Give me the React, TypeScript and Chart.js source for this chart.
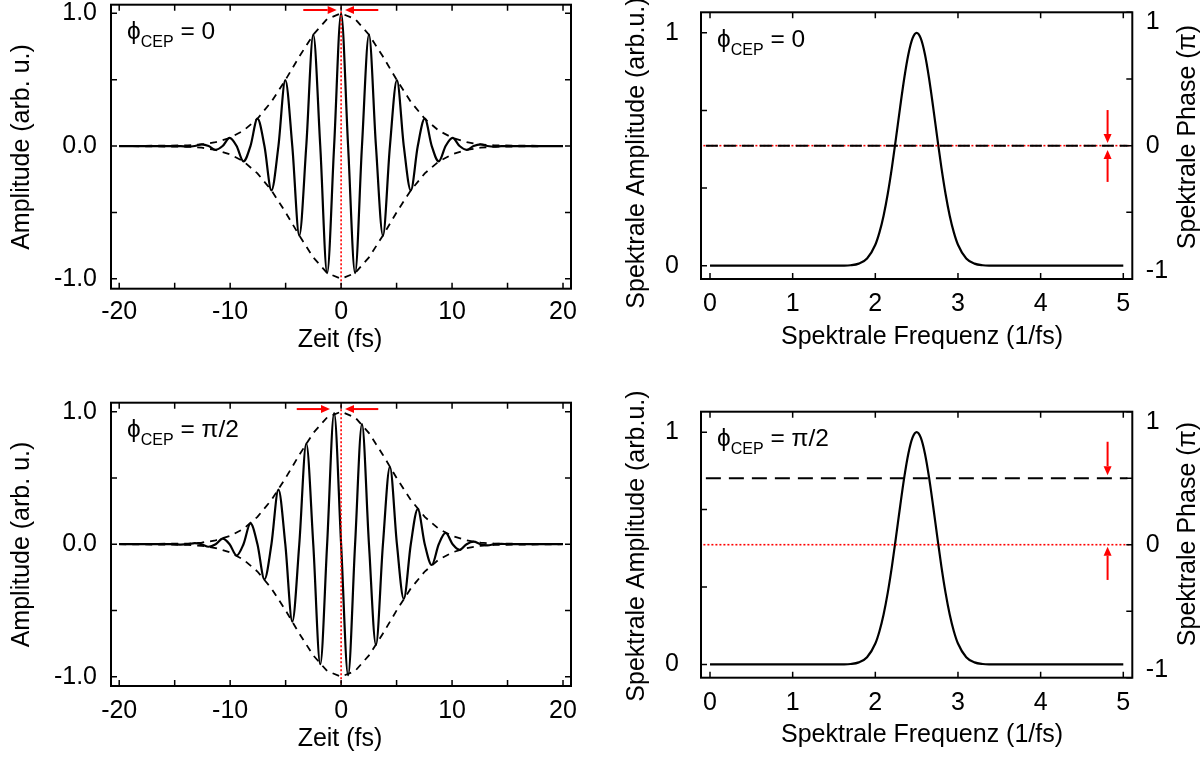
import React, { useEffect, useRef } from "react";
import { Chart, registerables } from "chart.js";

Chart.register(...registerables);

const W = 1203;
const H = 757;
const FONT = '"Liberation Sans", Arial, Helvetica, "DejaVu Sans", sans-serif';
const TICK_SIZE = 25;
const TITLE_SIZE = 25;

// ---------------- data ----------------
// electric field, phi_CEP = 0 (extrema and zero crossings)
const timeCos = [-20, -15, -14.45, -13.82, -13.19, -12.57, -11.94, -11.31, -10.68, -10.05, -9.42, -8.8, -8.17, -7.54, -6.91, -6.28, -5.65, -5.03, -4.4, -3.77, -3.14, -2.51, -1.88, -1.26, -0.63, 0, 0.63, 1.26, 1.88, 2.51, 3.14, 3.77, 4.4, 5.03, 5.65, 6.28, 6.91, 7.54, 8.17, 8.8, 9.42, 10.05, 10.68, 11.31, 11.94, 12.57, 13.19, 13.82, 14.45, 15, 20];
const fieldCos = [0, 0, 0, -0.005, 0, 0.012, 0, -0.029, 0, 0.061, 0, -0.116, 0, 0.206, 0, -0.334, 0, 0.496, 0, -0.674, 0, 0.839, 0, -0.957, 0, 1, 0, -0.957, 0, 0.839, 0, -0.674, 0, 0.496, 0, -0.334, 0, 0.206, 0, -0.116, 0, 0.061, 0, -0.029, 0, 0.012, 0, -0.005, 0, 0, 0];

// electric field, phi_CEP = pi/2
const timeSin = [-20, -15.08, -14.45, -13.82, -13.19, -12.57, -11.94, -11.31, -10.68, -10.05, -9.42, -8.8, -8.17, -7.54, -6.91, -6.28, -5.65, -5.03, -4.4, -3.77, -3.14, -2.51, -1.88, -1.26, -0.63, 0, 0.63, 1.26, 1.88, 2.51, 3.14, 3.77, 4.4, 5.03, 5.65, 6.28, 6.91, 7.54, 8.17, 8.8, 9.42, 10.05, 10.68, 11.31, 11.94, 12.57, 13.19, 13.82, 14.45, 15.08, 20];
const fieldSin = [0, 0, -0.003, 0, 0.008, 0, -0.019, 0, 0.042, 0, -0.085, 0, 0.157, 0, -0.265, 0, 0.412, 0, -0.584, 0, 0.76, 0, -0.906, 0, 0.989, 0, -0.989, 0, 0.906, 0, -0.76, 0, 0.584, 0, -0.412, 0, 0.265, 0, -0.157, 0, 0.085, 0, -0.042, 0, 0.019, 0, -0.008, 0, 0.003, 0, 0];

// envelope (dashed), through the field maxima
const envelopeTime = [-20, -13.82, -12.57, -11.31, -10.05, -8.8, -7.54, -6.28, -5.03, -3.77, -2.51, -1.26, 0, 1.26, 2.51, 3.77, 5.03, 6.28, 7.54, 8.8, 10.05, 11.31, 12.57, 13.82, 20];
const envelopeHigh = [0, 0.005, 0.012, 0.029, 0.061, 0.116, 0.206, 0.334, 0.496, 0.674, 0.839, 0.957, 1, 0.957, 0.839, 0.674, 0.496, 0.334, 0.206, 0.116, 0.061, 0.029, 0.012, 0.005, 0];
const envelopeLow = [0, -0.005, -0.012, -0.029, -0.061, -0.116, -0.206, -0.334, -0.496, -0.674, -0.839, -0.957, -1, -0.957, -0.839, -0.674, -0.496, -0.334, -0.206, -0.116, -0.061, -0.029, -0.012, -0.005, 0];

// red dotted reference at t = 0
const refTime = [0, 0];
const refAmp = [-1.2, 1.2];

// spectrum
const freq = [0, 1.5, 1.6, 1.7, 1.8, 1.9, 2.0, 2.05, 2.1, 2.15, 2.2, 2.25, 2.3, 2.35, 2.4, 2.45, 2.5, 2.55, 2.6, 2.65, 2.7, 2.75, 2.8, 2.85, 2.9, 2.95, 3.0, 3.1, 3.2, 3.3, 3.4, 3.5, 5.0];
const spectrum = [0, 0, 0.0004, 0.002, 0.009, 0.031, 0.09, 0.143, 0.215, 0.308, 0.42, 0.548, 0.68, 0.805, 0.908, 0.976, 1.0, 0.976, 0.908, 0.805, 0.68, 0.548, 0.42, 0.308, 0.215, 0.143, 0.09, 0.031, 0.009, 0.002, 0.0004, 0, 0];

// spectral phase (units of pi)
const phaseFreq = [-0.05, 5.05];
const phaseCep0 = [0, 0];
const phaseCep90 = [0.5, 0.5];
const refPhaseFreq = [-0.08, 5.2];
const refPhase = [0, 0];

// ticks
const timeTicks = [-20, -15, -10, -5, 0, 5, 10, 15, 20];
const timeTickLabels = ["-20", "", "-10", "", "0", "", "10", "", "20"];
const ampTicks = [-1, -0.5, 0, 0.5, 1];
const ampTickLabels = ["-1.0", "", "0.0", "", "1.0"];
const freqTicks = [0, 1, 2, 3, 4, 5];
const freqTickLabels = ["0", "1", "2", "3", "4", "5"];
const specTicks = [0, 1 / 3, 2 / 3, 1];
const specTickLabels = ["0", "", "", "1"];
const phaseTicks = [-1, -0.5, 0, 0.5, 1];
const phaseTickLabels = ["-1", "", "0", "", "1"];

// ---------------- helpers ----------------
const pts = (xs: number[], ys: number[]) => xs.map((x, i) => ({ x, y: ys[i] }));

function fixSize(size: number, horizontal: boolean) {
  return (s: any) => {
    if (horizontal) s.height = size;
    else s.width = size;
    s.paddingTop = 0;
    s.paddingBottom = 0;
    s.paddingLeft = 0;
    s.paddingRight = 0;
  };
}

function axis(o: any) {
  return {
    type: "linear",
    position: o.position,
    min: o.min,
    max: o.max,
    grid: { display: false, drawTicks: false },
    border: { display: false },
    title: { display: false },
    ticks: {
      display: o.showLabels !== false,
      autoSkip: false,
      maxRotation: 0,
      minRotation: 0,
      padding: o.padding,
      color: "#000",
      font: { family: FONT, size: TICK_SIZE },
      callback: (_v: any, i: number) => o.labels[i] ?? "",
    },
    afterBuildTicks: (s: any) => {
      s.ticks = o.ticks.map((v: number) => ({ value: v }));
    },
    afterFit: fixSize(o.size, o.horizontal),
  };
}

function drawArrow(ctx: any, x1: number, y1: number, x2: number, y2: number) {
  const a = Math.atan2(y2 - y1, x2 - x1);
  const head = 9;
  const hw = 4;
  const bx = x2 - head * Math.cos(a);
  const by = y2 - head * Math.sin(a);
  ctx.beginPath();
  ctx.moveTo(x1, y1);
  ctx.lineTo(bx, by);
  ctx.stroke();
  ctx.beginPath();
  ctx.moveTo(x2, y2);
  ctx.lineTo(bx + hw * Math.sin(a), by - hw * Math.cos(a));
  ctx.lineTo(bx - hw * Math.sin(a), by + hw * Math.cos(a));
  ctx.closePath();
  ctx.fill();
}

function decorPlugin(d: any) {
  return {
    id: "decor",
    afterDatasetsDraw(chart: any) {
      const ctx = chart.ctx;
      const ca = chart.chartArea;
      const xs = chart.scales.x;
      const ys = chart.scales.y;
      const y2 = chart.scales.y2;
      const TL = 6;
      ctx.save();
      ctx.strokeStyle = "#000";
      ctx.lineWidth = 1.5;
      ctx.setLineDash([]);
      ctx.beginPath();
      d.xTicks.forEach((v: number) => {
        const px = xs.getPixelForValue(v);
        ctx.moveTo(px, ca.bottom);
        ctx.lineTo(px, ca.bottom - TL);
        ctx.moveTo(px, ca.top);
        ctx.lineTo(px, ca.top + TL);
      });
      d.yTicks.forEach((v: number) => {
        const py = ys.getPixelForValue(v);
        ctx.moveTo(ca.left, py);
        ctx.lineTo(ca.left + TL, py);
        if (!y2) {
          ctx.moveTo(ca.right, py);
          ctx.lineTo(ca.right - TL, py);
        }
      });
      if (y2 && d.y2Ticks) {
        d.y2Ticks.forEach((v: number) => {
          const py = y2.getPixelForValue(v);
          ctx.moveTo(ca.right, py);
          ctx.lineTo(ca.right - TL, py);
        });
      }
      ctx.stroke();
      ctx.lineWidth = 2;
      ctx.strokeRect(ca.left, ca.top, ca.right - ca.left, ca.bottom - ca.top);

      // right-axis tick labels (end labels kept inside the frame height)
      if (y2 && d.y2Ticks) {
        ctx.fillStyle = "#000";
        ctx.font = `${TICK_SIZE}px ${FONT}`;
        ctx.textAlign = "left";
        ctx.textBaseline = "middle";
        d.y2Ticks.forEach((v: number, i: number) => {
          const lab = d.y2Labels[i];
          if (!lab) return;
          let py = y2.getPixelForValue(v);
          py = Math.min(Math.max(py, ca.top + 10), ca.bottom - 8);
          ctx.fillText(lab, ca.right + 13.5, py);
        });
      }

      // arrows
      ctx.strokeStyle = "#ff0000";
      ctx.fillStyle = "#ff0000";
      ctx.lineWidth = 2;
      d.arrows.forEach((ar: any) => {
        const sy = ar.axis === "y2" ? y2 : ys;
        drawArrow(
          ctx,
          xs.getPixelForValue(ar.from[0]),
          sy.getPixelForValue(ar.from[1]),
          xs.getPixelForValue(ar.to[0]),
          sy.getPixelForValue(ar.to[1])
        );
      });

      // phi_CEP label
      ctx.fillStyle = "#000";
      ctx.textAlign = "left";
      ctx.textBaseline = "alphabetic";
      let x = ca.left + 16;
      const base = ca.top + 34.5;
      ctx.font = `24.5px ${FONT}`;
      ctx.fillText("\u03D5", x, base);
      x += ctx.measureText("\u03D5").width;
      ctx.font = `16px ${FONT}`;
      ctx.fillText("CEP", x, base + 8);
      x += ctx.measureText("CEP").width;
      ctx.font = `24.5px ${FONT}`;
      ctx.fillText(" = " + d.cep, x, base);

      // axis titles
      ctx.font = `${TITLE_SIZE}px ${FONT}`;
      ctx.textAlign = "center";
      ctx.textBaseline = "middle";
      d.titles.forEach((t: any) => {
        ctx.save();
        ctx.translate(t.x, t.y);
        if (t.rot) ctx.rotate(-Math.PI / 2);
        ctx.fillText(t.text, 0, 0);
        ctx.restore();
      });
      ctx.restore();
    },
  };
}

const baseOptions = (f: any, rightPad: number, scales: any) => ({
  responsive: false,
  maintainAspectRatio: false,
  animation: false,
  devicePixelRatio: 1,
  events: [],
  layout: { padding: { left: 0, top: f.t, right: rightPad, bottom: 0 } },
  plugins: { legend: { display: false }, tooltip: { enabled: false }, title: { display: false } },
  elements: { point: { radius: 0, hoverRadius: 0 }, line: { fill: false } },
  scales,
});

function timeChart(p: any) {
  const f = p.frame;
  return {
    type: "line",
    data: {
      datasets: [
        { data: pts(refTime, refAmp), borderColor: "#ff0000", borderWidth: 1.6, borderDash: [2, 2], order: 0 },
        { data: pts(p.time, p.field), borderColor: "#000", borderWidth: 2.2, cubicInterpolationMode: "monotone", order: 1 },
        { data: pts(envelopeTime, envelopeHigh), borderColor: "#000", borderWidth: 1.8, borderDash: [7, 6], order: 2 },
        { data: pts(envelopeTime, envelopeLow), borderColor: "#000", borderWidth: 1.8, borderDash: [7, 6], order: 3 },
      ],
    },
    options: baseOptions(f, W - f.r, {
      x: axis({ position: "bottom", min: -20.74, max: 20.72, ticks: timeTicks, labels: timeTickLabels, padding: p.xPad, size: H - f.b, horizontal: true }),
      y: axis({ position: "left", min: p.yMin, max: p.yMax, ticks: ampTicks, labels: ampTickLabels, padding: 14, size: f.l, horizontal: false }),
    }),
    plugins: [
      decorPlugin({
        xTicks: timeTicks,
        yTicks: ampTicks,
        arrows: p.arrows,
        cep: p.cep,
        titles: [
          { text: "Zeit (fs)", x: p.xTitle[0], y: p.xTitle[1], rot: false },
          { text: "Amplitude (arb. u.)", x: p.yTitle[0], y: p.yTitle[1], rot: true },
        ],
      }),
    ],
  };
}

function specChart(p: any) {
  const f = p.frame;
  return {
    type: "line",
    data: {
      datasets: [
        { data: pts(phaseFreq, p.phase), yAxisID: "y2", borderColor: "#000", borderWidth: 2, borderDash: p.dash, order: 0 },
        { data: pts(refPhaseFreq, refPhase), yAxisID: "y2", borderColor: "#ff0000", borderWidth: 1.6, borderDash: [2, 2], order: 1 },
        { data: pts(freq, spectrum), yAxisID: "y", borderColor: "#000", borderWidth: 2.2, cubicInterpolationMode: "monotone", order: 2 },
      ],
    },
    options: baseOptions(f, 0, {
      x: axis({ position: "bottom", min: -0.109, max: 5.109, ticks: freqTicks, labels: freqTickLabels, padding: p.xPad, size: H - f.b, horizontal: true }),
      y: axis({ position: "left", min: -0.057, max: 1.088, ticks: specTicks, labels: specTickLabels, padding: 22, size: f.l, horizontal: false }),
      y2: axis({ position: "right", min: -1, max: 1, ticks: phaseTicks, labels: phaseTickLabels, padding: 13.5, size: W - f.r, horizontal: false, showLabels: false }),
    }),
    plugins: [
      decorPlugin({
        xTicks: freqTicks,
        yTicks: specTicks,
        y2Ticks: phaseTicks,
        y2Labels: phaseTickLabels,
        arrows: p.arrows,
        cep: p.cep,
        titles: [
          { text: "Spektrale Frequenz (1/fs)", x: p.xTitle[0], y: p.xTitle[1], rot: false },
          { text: "Spektrale Amplitude (arb.u.)", x: p.yTitle[0], y: p.yTitle[1], rot: true },
          { text: "Spektrale Phase (\u03C0)", x: p.y2Title[0], y: p.y2Title[1], rot: true },
        ],
      }),
    ],
  };
}

const builders = [
  () =>
    timeChart({
      frame: { l: 111, t: 4.7, r: 571, b: 288.7 },
      time: timeCos,
      field: fieldCos,
      yMin: -1.075,
      yMax: 1.065,
      xPad: 8.5,
      cep: "0",
      xTitle: [340, 340],
      yTitle: [22, 147],
      arrows: [
        { axis: "y", from: [-3.41, 1.025], to: [-0.4, 1.025] },
        { axis: "y", from: [3.35, 1.025], to: [0.35, 1.025] },
      ],
    }),
  () =>
    timeChart({
      frame: { l: 111, t: 402.7, r: 571, b: 686 },
      time: timeSin,
      field: fieldSin,
      yMin: -1.07,
      yMax: 1.068,
      xPad: 10,
      cep: "\u03C0/2",
      xTitle: [340, 739.5],
      yTitle: [22, 544.5],
      arrows: [
        { axis: "y", from: [-4.0, 1.02], to: [-1.0, 1.02] },
        { axis: "y", from: [3.35, 1.02], to: [0.35, 1.02] },
      ],
    }),
  () =>
    specChart({
      frame: { l: 701, t: 12.3, r: 1132.3, b: 279 },
      phase: phaseCep0,
      dash: [12, 6],
      xPad: 10,
      cep: "0",
      xTitle: [922, 337.5],
      yTitle: [637, 153],
      y2Title: [1188, 137],
      arrows: [
        { axis: "y2", from: [4.81, 0.267], to: [4.81, 0.02] },
        { axis: "y2", from: [4.81, -0.272], to: [4.81, -0.033] },
      ],
    }),
  () =>
    specChart({
      frame: { l: 701, t: 411.7, r: 1132.3, b: 677.7 },
      phase: phaseCep90,
      dash: [15, 8],
      xPad: 10.5,
      cep: "\u03C0/2",
      xTitle: [922, 735],
      yTitle: [637, 546],
      y2Title: [1188, 534],
      arrows: [
        { axis: "y2", from: [4.81, 0.774], to: [4.81, 0.523] },
        { axis: "y2", from: [4.81, -0.265], to: [4.81, -0.015] },
      ],
    }),
];

function Panel({ build }: { build: () => any }) {
  const ref = useRef<HTMLCanvasElement | null>(null);
  useEffect(() => {
    const chart = new Chart(ref.current as HTMLCanvasElement, build());
    return () => chart.destroy();
  }, [build]);
  return (
    <canvas
      ref={ref}
      width={W}
      height={H}
      style={{ position: "absolute", left: 0, top: 0, width: W, height: H }}
    />
  );
}

export default function App() {
  return (
    <div style={{ position: "absolute", left: 0, top: 0, width: W, height: H, background: "#fff", overflow: "hidden" }}>
      {builders.map((b, i) => (
        <Panel key={i} build={b} />
      ))}
    </div>
  );
}
